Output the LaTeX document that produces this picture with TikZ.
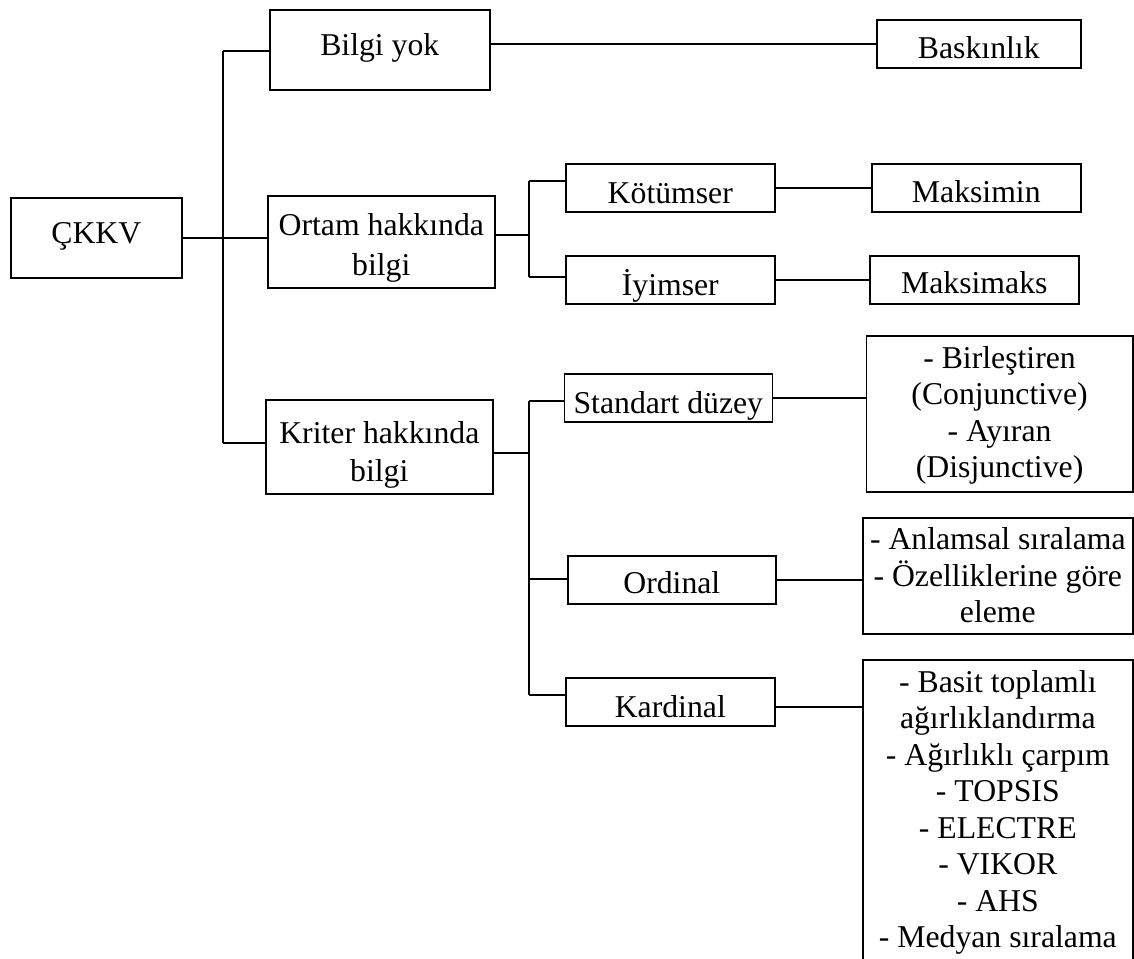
\documentclass[tikz,border=0pt]{standalone}
\usepackage{fontspec}
\setmainfont{Liberation Serif}
\begin{document}
\begin{tikzpicture}[x=0.75pt, y=-0.75pt, line width=1.2pt,
  box/.style={draw, inner sep=0pt, anchor=north west, align=center,
    font=\fontsize{23.8}{27.4}\selectfont},
  small/.style={box, text height=30pt, text depth=6pt},
  wide/.style={box, text height=34.5pt, text depth=25.5pt}]
\useasboundingbox (0,0) rectangle (1134,958);
\clip (0,0) rectangle (1134,958);

% root and first level
\node[wide, minimum width=128.25pt] (ckkv) at (10,197) {ÇKKV};
\node[wide, minimum width=165pt] (bilgi) at (269,9) {Bilgi yok};
\node[box, minimum width=170.25pt, text height=60pt, text depth=9pt,
  font=\fontsize{23.8}{30}\selectfont] (ortam) at (267,195) {Ortam hakkında\\bilgi};
\node[box, minimum width=170.25pt, text height=61.5pt, text depth=9pt,
  font=\fontsize{23.8}{28.5}\selectfont] (kriter) at (265,399) {Kriter hakkında\\bilgi};

% second level
\node[small, minimum width=156.75pt] (kotu) at (565,163) {Kötümser};
\node[small, minimum width=156.75pt] (iyi) at (565,255) {İyimser};
\node[small, minimum width=156pt] (std) at (563.5,373) {Standart düzey};
\node[small, minimum width=156pt, text height=28.5pt, text depth=7.5pt] (ord) at (567,555) {Ordinal};
\node[small, minimum width=156.75pt] (kard) at (565,677) {Kardinal};

% methods
\node[small, minimum width=153pt, text height=29.25pt, text depth=6.75pt] (bask) at (876,19) {Baskınlık};
\node[small, minimum width=156.75pt, text height=29.25pt, text depth=6.75pt] (maksimin) at (871,163) {Maksimin};
\node[small, minimum width=156.75pt, text height=28.5pt, text depth=7.5pt] (maksimaks) at (869,255) {Maksimaks};
\node[box, minimum width=199.9pt, text height=106.5pt, text depth=10.5pt] (birl) at (865.5,335)
  {- Birleştiren\\(Conjunctive)\\- Ayıran\\(Disjunctive)};
\node[box, minimum width=202.5pt, text height=78.75pt, text depth=8.25pt] (anl) at (862,517)
  {- Anlamsal sıralama\\- Özelliklerine göre\\eleme};
\node[box, minimum width=202.5pt, text height=216pt, text depth=21pt] (basit) at (862,659)
  {- Basit toplamlı\\ağırlıklandırma\\- Ağırlıklı çarpım\\- TOPSIS\\- ELECTRE\\- VIKOR\\- AHS\\- Medyan sıralama};

% main trunk
\coordinate (t1) at (223,51);
\coordinate (t3) at (223,443);
\draw (t1) -- (t3);
\draw (ckkv.east) -- (ckkv.east -| ortam.west);
\draw (t1) -- (t1 -| bilgi.west);
\draw (t3) -- (t3 -| kriter.west);
\draw (bask.west) -- (bask.west -| bilgi.east);

% environment branch
\coordinate (fo) at (529,235);
\coordinate (fo1) at (529,181);
\coordinate (fo2) at (529,277);
\draw (fo) -- (fo -| ortam.east);
\draw (fo1) -- (fo2);
\draw (fo1) -- (fo1 -| kotu.west);
\draw (fo2) -- (fo2 -| iyi.west);
\draw (kotu.east) -- (kotu.east -| maksimin.west);
\draw (iyi.east) -- (iyi.east -| maksimaks.west);

% criterion branch
\coordinate (fk) at (529,453);
\coordinate (fk1) at (529,401);
\coordinate (fk2) at (529,579);
\coordinate (fk3) at (529,695);
\draw (fk) -- (fk -| kriter.east);
\draw (fk1) -- (fk3);
\draw (fk1) -- (fk1 -| std.west);
\draw (fk2) -- (fk2 -| ord.west);
\draw (fk3) -- (fk3 -| kard.west);
\draw (std.east) -- (std.east -| birl.west);
\draw (ord.east) -- (ord.east -| anl.west);
\coordinate (kb) at (774,707);
\draw (kb) -- (kb -| basit.west);
\end{tikzpicture}
\end{document}
